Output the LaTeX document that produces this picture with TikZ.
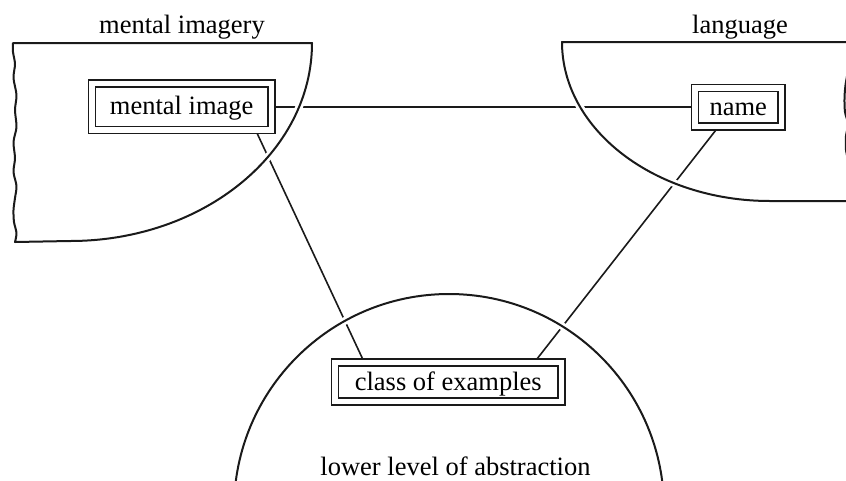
\documentclass[tikz,border=0pt]{standalone}
\usepackage{fontspec}
\setmainfont{Liberation Serif}
\usetikzlibrary{calc}
\definecolor{ink}{HTML}{1A1A1A}
\newcommand\labelfont{\fontsize{26.5}{30}\selectfont}
\begin{document}
\begin{tikzpicture}[x=1pt,y=-1pt,
  region/.style={draw=ink, line width=2pt, line join=round, line cap=round,
    preaction={draw=white, line width=7.5pt}},
  conn/.style={draw=ink, line width=1.6pt},
  concept/.style={draw=ink, line width=1.4pt, double=white, double distance=5.6pt,
    inner sep=0pt, outer sep=3.5pt, text height=17pt, text depth=1pt, font=\labelfont},
  caption/.style={inner sep=0pt, anchor=base, font=\labelfont}]
\useasboundingbox (0,0) rectangle (846,480);
\fill[white] (0,0) rectangle (846,480);
\clip (0,0) rectangle (846,480);

% concept boxes
\node[concept, minimum width=179.7pt, minimum height=46.3pt] (mi) at (181.7,106.7) {mental image};
\node[concept, minimum width=86.3pt, minimum height=38.7pt] (nm) at (738.3,107.2) {name};
\node[concept, minimum width=226.3pt, minimum height=39pt] (ce) at (448.3,382) {class of examples};

% connectors between the concepts
\draw[conn] (mi.east) -- (mi.east -| nm.west);
\draw[conn] ($(mi.south west)!0.904!(mi.south east)$) -- ($(ce.north west)!0.133!(ce.north east)$);
\draw[conn] ($(nm.south west)!0.26!(nm.south east)$) -- ($(ce.north west)!0.88!(ce.north east)$);

% region: mental imagery (torn left edge)
\draw[region] (13,43) -- (312,43)
  arc[start angle=0, end angle=-90, x radius=242pt, y radius=198pt]
  -- plot[smooth, tension=0.5] coordinates {(15,242) (16.5,233) (14,222) (13.5,210) (15,198)
     (16.5,186) (13.5,172) (15,158) (13.5,142) (16.5,127) (15,110) (16.5,95) (13.5,78) (15,64) (13,52) (13,43)};

% region: language (torn right edge)
\draw[region] (849,42) -- (562,42)
  arc[start angle=180, end angle=270, x radius=208pt, y radius=159pt]
  -- plot[smooth, tension=0.5] coordinates {(847,201) (848,185) (849,166) (846,150) (846,136)
     (848,124) (845,112) (844.5,98) (845.5,85) (848,70) (849,55) (849,42)};

% region: lower level of abstraction
\draw[region] (449,509) circle[radius=215pt];

% region captions
\node[caption] (lmi) at (182,33) {mental imagery};
\node[caption] (llang) at (740,33) {language};
\node[caption] (llow) at (455.5,475) {lower level of abstraction};
\end{tikzpicture}
\end{document}
